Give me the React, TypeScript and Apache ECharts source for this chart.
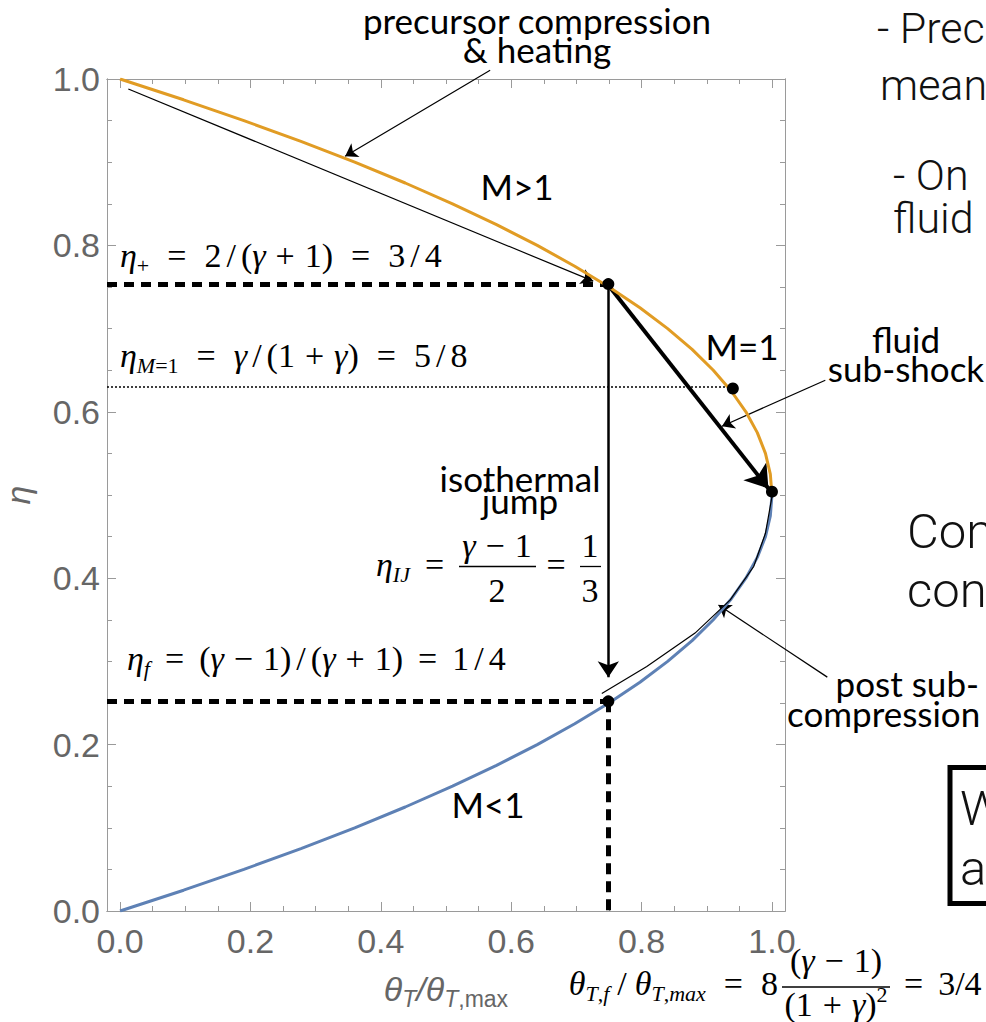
import React, { useEffect, useRef } from "react";
import * as echarts from "echarts";

// ---------- data ----------
// upper branch, M>1 (orange): eta vs thetaT/thetaT,max
const upperEta = [1.0, 0.975, 0.95, 0.925, 0.9, 0.875, 0.85, 0.825, 0.8, 0.775, 0.75, 0.725, 0.7, 0.675, 0.65, 0.625, 0.6, 0.575, 0.55, 0.525, 0.5];
const upperTheta = [0, 0.0975, 0.19, 0.2775, 0.36, 0.4375, 0.51, 0.5775, 0.64, 0.6975, 0.75, 0.7975, 0.84, 0.8775, 0.91, 0.9375, 0.96, 0.9775, 0.99, 0.9975, 1.0];
// lower branch, M<1 (blue)
const lowerEta = [0, 0.025, 0.05, 0.075, 0.1, 0.125, 0.15, 0.175, 0.2, 0.225, 0.25, 0.275, 0.3, 0.325, 0.35, 0.375, 0.4, 0.425, 0.45, 0.475, 0.5];
const lowerTheta = [0, 0.0975, 0.19, 0.2775, 0.36, 0.4375, 0.51, 0.5775, 0.64, 0.6975, 0.75, 0.7975, 0.84, 0.8775, 0.91, 0.9375, 0.96, 0.9775, 0.99, 0.9975, 1.0];

// marked points [theta, eta]
const keyPoints = [[0.749, 0.7535], [0.94, 0.628], [1.0, 0.504], [0.749, 0.252]];

// guide lines [theta, eta]
const etaPlusLine = [[-0.02, 0.7535], [0.749, 0.7535]];
const etaFLine = [[-0.02, 0.252], [0.749, 0.252]];
const thetaFLine = [[0.749, 0.252], [0.749, 0.0]];
const etaM1Line = [[-0.02, 0.63], [0.94, 0.63]];

// arrows [theta, eta] (last point = arrow tip)
const precursorArrow = [[0.0127, 0.988], [0.7258, 0.757]];
const jumpArrow = [[0.749, 0.752], [0.749, 0.281]];
const subShockArrow = [[0.7503, 0.751], [0.9946, 0.5078]];
const postShockArrow = [[1.0, 0.498], [0.99, 0.454], [0.972, 0.414], [0.936, 0.374], [0.882, 0.334], [0.808, 0.294], [0.739, 0.2615]];
// annotation pointers
const precursorPointer = [[0.5677, 1.0105], [0.3453, 0.9071]];
const fluidPointer = [[1.0818, 0.638], [0.9233, 0.5827]];
const postPointer = [[1.0849, 0.2811], [0.918, 0.3677]];

// ticks
const majorTicks = [0, 0.2, 0.4, 0.6, 0.8, 1.0];
const minorTicks = [0, 0.05, 0.1, 0.15, 0.2, 0.25, 0.3, 0.35, 0.4, 0.45, 0.5, 0.55, 0.6, 0.65, 0.7, 0.75, 0.8, 0.85, 0.9, 0.95, 1.0];

// ---------- styles ----------
const SANS = '"Liberation Sans", Arial, sans-serif';
const SERIF = '"Liberation Serif", "Times New Roman", serif';
const GILL = 'Lato, "Open Sans", sans-serif';
const SLIDE = 'Roboto, "Liberation Sans", sans-serif';
const AXIS = "#9a9a9a";
const ORANGE = "#E19C24";
const BLUE = "#5E81B5";

const MS = 34; // math font size
const SS = 22; // subscript size
const richMath: any = {
  i: { fontFamily: SERIF, fontSize: MS, fontStyle: "italic", lineHeight: 42, fill: "#000" },
  n: { fontFamily: SERIF, fontSize: MS, lineHeight: 42, fill: "#000" },
  rel: { fontFamily: SERIF, fontSize: MS, lineHeight: 42, padding: [0, 15], fill: "#000" },
  r2: { fontFamily: SERIF, fontSize: MS, lineHeight: 42, padding: [0, 18], fill: "#000" },
  bin: { fontFamily: SERIF, fontSize: MS, lineHeight: 42, padding: [0, 10], fill: "#000" },
  sl: { fontFamily: SERIF, fontSize: MS, lineHeight: 42, padding: [0, 5], fill: "#000" },
  sl2: { fontFamily: SERIF, fontSize: MS, lineHeight: 42, padding: [0, 8], fill: "#000" },
  sub: { fontFamily: SERIF, fontSize: SS, fontStyle: "italic", verticalAlign: "bottom", lineHeight: 24, fill: "#000" },
  subn: { fontFamily: SERIF, fontSize: SS, verticalAlign: "bottom", lineHeight: 24, fill: "#000" },
  sup: { fontFamily: SERIF, fontSize: SS, verticalAlign: "top", lineHeight: 24, fill: "#000" },
};

function math(text: string, x: number, baseline: number, align = "left") {
  return {
    type: "text", x, y: baseline - 0.3375 * MS, silent: true, z: 50,
    style: { text, rich: richMath, fill: "#000", align, verticalAlign: "middle", fontFamily: SERIF, fontSize: MS },
  };
}
// Gill-style annotation; baseline is that of the first line
function gill(text: string, x: number, baseline: number, align = "center", lineHeight = 30, size = 35) {
  const lines = text.split("\n").length;
  const firstCenter = baseline - 0.387 * size;
  return {
    type: "text", x, y: firstCenter + ((lines - 1) * lineHeight) / 2, silent: true, z: 50,
    style: { text, fill: "#000", fontFamily: GILL, fontSize: size, lineHeight, align, verticalAlign: "middle" },
  };
}
function slide(text: string, x: number, baseline: number, size = 43) {
  return {
    type: "text", x, y: baseline - 0.342 * size, silent: true, z: 50,
    style: { text, fill: "#111", fontFamily: SLIDE, fontWeight: 300, fontSize: size, align: "left", verticalAlign: "middle" },
  };
}
function bar(x1: number, x2: number, y: number) {
  return { type: "line", silent: true, z: 50, shape: { x1, y1: y, x2, y2: y }, style: { stroke: "#000", lineWidth: 1.3 } };
}

function xAx(position: string, ticks: number[], len: number, labels: boolean): any {
  const ax: any = {
    type: "value", position, min: -0.02, max: 1.02,
    axisLine: { show: true, onZero: false, lineStyle: { color: AXIS, width: 1 } },
    axisTick: { show: true, inside: true, length: len, customValues: ticks, lineStyle: { color: AXIS, width: 1 } },
    axisLabel: labels
      ? { show: true, customValues: majorTicks, formatter: (v: number) => v.toFixed(1), fontFamily: SANS, fontSize: 34, color: "#666", margin: 13 }
      : { show: false },
    splitLine: { show: false },
  };
  if (labels) {
    ax.name = "{a|θ}{s|T}{a|/θ}{s|T}{b|,max}";
    ax.nameLocation = "middle";
    ax.nameGap = 57;
    ax.nameTextStyle = {
      color: "#666",
      rich: {
        a: { fontFamily: SANS, fontStyle: "italic", fontSize: 34, color: "#666", lineHeight: 42 },
        s: { fontFamily: SANS, fontStyle: "italic", fontSize: 23, color: "#666", verticalAlign: "bottom", lineHeight: 26 },
        b: { fontFamily: SANS, fontSize: 23, color: "#666", verticalAlign: "bottom", lineHeight: 26 },
      },
    };
  }
  return ax;
}
function yAx(position: string, ticks: number[], len: number, labels: boolean): any {
  const ax: any = {
    type: "value", position, min: 0, max: 1,
    axisLine: { show: true, onZero: false, lineStyle: { color: AXIS, width: 1 } },
    axisTick: { show: true, inside: true, length: len, customValues: ticks, lineStyle: { color: AXIS, width: 1 } },
    axisLabel: labels
      ? { show: true, customValues: majorTicks, formatter: (v: number) => v.toFixed(1), fontFamily: SANS, fontSize: 34, color: "#666", margin: 7 }
      : { show: false },
    splitLine: { show: false },
  };
  if (labels) {
    ax.name = "η";
    ax.nameLocation = "middle";
    ax.nameGap = 72;
    ax.nameTextStyle = { fontFamily: SANS, fontStyle: "italic", fontSize: 34, color: "#666" };
  }
  return ax;
}

function linesSeries(coords: number[][], width: number, opts: any = {}) {
  return {
    type: "lines", coordinateSystem: "cartesian2d", xAxisIndex: 0, yAxisIndex: 0,
    polyline: coords.length > 2, clip: false, silent: true,
    symbol: opts.arrow ? ["none", "arrow"] : ["none", "none"],
    symbolSize: opts.arrow || 0,
    data: [{ coords }],
    lineStyle: { color: "#000", width, opacity: 1, type: opts.type || "solid" },
    itemStyle: { color: "#000" },
    z: opts.z || 3,
  };
}

const option: any = {
  animation: false,
  backgroundColor: "#fff",
  grid: { left: 107, top: 79, width: 678, height: 832, containLabel: false, outerBoundsMode: "none" },
  xAxis: [xAx("bottom", majorTicks, 9, true), xAx("bottom", minorTicks, 5, false), xAx("top", majorTicks, 9, false), xAx("top", minorTicks, 5, false)],
  yAxis: [yAx("left", majorTicks, 9, true), yAx("left", minorTicks, 5, false), yAx("right", majorTicks, 9, false), yAx("right", minorTicks, 5, false)],
  series: [
    linesSeries(etaPlusLine, 5, { type: [10, 7] }),
    linesSeries(etaFLine, 5, { type: [10, 7] }),
    linesSeries(thetaFLine, 5, { type: [11, 7] }),
    linesSeries(etaM1Line, 1.5, { type: [2, 2] }),
    linesSeries(precursorArrow, 1.2, { arrow: 12 }),
    linesSeries(jumpArrow, 2.5, { arrow: 16 }),
    linesSeries(subShockArrow, 4, { arrow: 22 }),
    linesSeries(precursorPointer, 1.2, { arrow: 12 }),
    linesSeries(fluidPointer, 1.2, { arrow: 12 }),
    linesSeries(postPointer, 1.2, { arrow: 12 }),
    {
      type: "line", name: "M>1", xAxisIndex: 0, yAxisIndex: 0,
      data: upperTheta.map((t, i) => [t, upperEta[i]]),
      showSymbol: false, smooth: false, silent: true,
      lineStyle: { color: ORANGE, width: 3 }, itemStyle: { color: ORANGE }, z: 4,
    },
    {
      type: "line", name: "M<1", xAxisIndex: 0, yAxisIndex: 0,
      data: lowerTheta.map((t, i) => [t, lowerEta[i]]),
      showSymbol: false, smooth: false, silent: true,
      lineStyle: { color: BLUE, width: 3 }, itemStyle: { color: BLUE }, z: 4,
    },
    linesSeries(postShockArrow, 1.2, { arrow: 12, z: 5 }),
    {
      type: "scatter", xAxisIndex: 0, yAxisIndex: 0, data: keyPoints, symbolSize: 12, silent: true,
      itemStyle: { color: "#000", opacity: 1 }, z: 6,
    },
  ],
  graphic: {
    elements: [
      // plot annotations
      gill("precursor compression\n& heating", 537, 34, "center", 29),
      gill("M>1", 517, 200),
      gill("M=1", 742, 360),
      gill("fluid\nsub-shock", 906, 353, "center", 29),
      gill("isothermal\njump", 520, 492, "center", 22),
      gill("M<1", 488, 818),
      gill("post sub-", 979, 697, "right"),
      gill("compression", 787, 727, "left"),
      // formulas
      math("{i|η}{subn|+}{r2|=}{n|2}{sl|/}{n|(}{i|γ}{bin|+}{n|1)}{r2|=}{n|3}{sl|/}{n|4}", 120, 267),
      math("{i|η}{sub|M}{subn|=1}{r2|=}{i|γ}{sl|/}{n|(1}{bin|+}{i|γ}{n|)}{r2|=}{n|5}{sl|/}{n|8}", 120, 366.5),
      math("{i|η}{sub|f}{rel|=}{n|(}{i|γ}{bin|−}{n|1)}{sl|/}{n|(}{i|γ}{bin|+}{n|1)}{rel|=}{n|1}{sl|/}{n|4}", 127, 670),
      math("{i|η}{sub|IJ}{rel|=}", 376, 576),
      math("{i|γ}{bin|−}{n|1}", 497, 557, "center"),
      bar(459, 536, 566.5),
      math("{n|2}", 497, 602, "center"),
      math("{rel|=}", 556, 576, "center"),
      math("{n|1}", 590, 557, "center"),
      bar(580, 601, 566.5),
      math("{n|3}", 590, 602, "center"),
      math("{i|θ}{sub|T}{subn|,}{sub|f}{sl2|/}{i|θ}{sub|T}{subn|,}{sub|max}{r2|=}{n|8}", 778, 995, "right"),
      math("{n|(}{i|γ}{bin|−}{n|1)}", 836, 972, "center"),
      bar(782, 890, 987),
      math("{n|(1}{bin|+}{i|γ}{n|)}{sup|2}", 836, 1016, "center"),
      math("{rel|=}{n|3/4}", 889, 995),
      // slide text to the right
      slide("- Prec", 877, 43),
      slide("mean", 880, 100),
      slide("- On", 893, 190),
      slide("fluid", 893, 233),
      slide("Con", 907, 548, 49),
      slide("con", 907, 607, 49),
      slide("W", 960, 825, 49),
      slide("a", 960, 885, 49),
      { type: "rect", silent: true, z: 50, shape: { x: 950, y: 767.5, width: 200, height: 136 }, style: { fill: "none", stroke: "#000", lineWidth: 5 } },
    ],
  },
};

export default function App() {
  const ref = useRef<HTMLDivElement>(null);
  useEffect(() => {
    const chart = echarts.init(ref.current!, null, { renderer: "svg" });
    chart.setOption(option);
    return () => chart.dispose();
  }, []);
  return <div ref={ref} style={{ position: "absolute", left: 0, top: 0, width: 986, height: 1022, background: "#fff" }} />;
}
